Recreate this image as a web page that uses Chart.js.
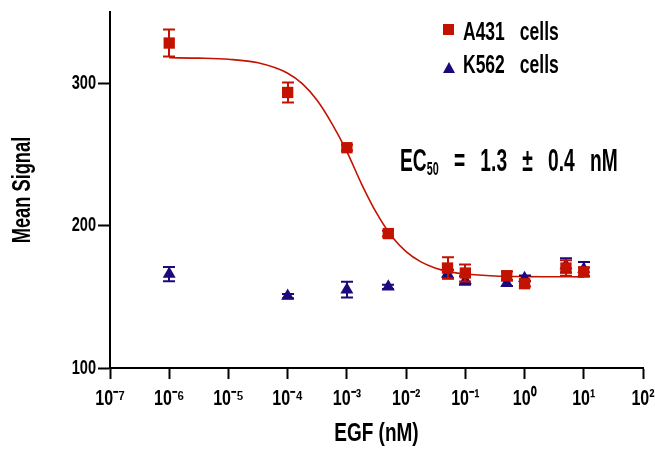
<!DOCTYPE html>
<html>
<head>
<meta charset="utf-8">
<script src="https://cdn.jsdelivr.net/npm/chart.js@4.4.1/dist/chart.umd.min.js"></script>
<style>
  html, body { margin: 0; padding: 0; background: #fff; }
  #wrap { position: relative; width: 655px; height: 450px; overflow: hidden; }
  #c { position: absolute; left: 0; top: 0; }
  .t { position: absolute; font-family: "Liberation Sans", Arial, sans-serif; font-weight: bold; color: #000; white-space: pre; transform-origin: 0 0; }
  .leg { font-size: 25px; line-height: 25px; word-spacing: 14.5px; transform: scaleX(0.7); }
  #ec { left: 400px; top: 144px; font-size: 32px; line-height: 32px; transform: scaleX(0.6); word-spacing: 16.5px; }
  #ec sub { font-size: 18px; line-height: 0; vertical-align: -4px; }
  #sq { position: absolute; left: 443px; top: 24px; width: 11px; height: 11px; background: #C41200; }
  #tri { position: absolute; left: 443px; top: 62px; width: 0; height: 0; border-left: 6px solid transparent; border-right: 6px solid transparent; border-bottom: 11px solid #1A0A7D; }
</style>
</head>
<body>
<div id="wrap">
  <canvas id="c" width="655" height="450"></canvas>
  <div id="sq"></div>
  <div id="tri"></div>
  <div class="t leg" id="leg1" style="left:463px;top:19px;"></div>
  <div class="t leg" id="leg2" style="left:463px;top:52px;"></div>
  <div class="t" id="ec">EC<sub>50</sub> = 1.3 ± 0.4 nM</div>
</div>
<script>
// ---- Data ----
const seriesNames = ['A431 cells', 'K562 cells'];

const concA431   = [1e-6, 1e-4, 1e-3, 5e-3, 5e-2, 1e-1, 5e-1, 1, 5, 10];
const signalA431 = [328.2, 293.5, 254.7, 194.4, 170.2, 166.7, 164.8, 159.2, 170.2, 167.5];
const errA431    = [9.5, 7, 2, 2, 7.5, 6, 3, 2, 5.5, 3];

const concK562   = [1e-6, 1e-4, 1e-3, 5e-3, 5e-2, 1e-1, 5e-1, 1, 5, 10];
const signalK562 = [166, 150.5, 155, 157, 166, 161.5, 159.5, 163, 172, 169.5];
const errK562    = [5, 1.5, 5.5, 1.5, 3, 3, 2, 2, 5, 5];

// fitted curve for A431
const fitConc   = [1e-6, 3.16e-6, 1e-5, 3.16e-5, 1e-4, 1.78e-4, 3.16e-4, 5.62e-4, 1e-3, 1.78e-3, 3.16e-3, 5.62e-3, 1e-2, 1.78e-2, 3.16e-2, 5.62e-2, 1e-1, 3.16e-1, 1, 3.16, 10];
const fitSignal = [317.9, 317.6, 316.8, 314.3, 307.0, 299.5, 287.9, 271.5, 252.0, 229.0, 208.9, 192.9, 181.7, 174.5, 170.1, 167.5, 166.0, 164.6, 164.2, 164.1, 164.0];

const xTickValues = [1e-7, 1e-6, 1e-5, 1e-4, 1e-3, 1e-2, 1e-1, 1, 10, 100];
const xTickLabels = ['10⁻⁷', '10⁻⁶', '10⁻⁵', '10⁻⁴', '10⁻³', '10⁻²', '10⁻¹', '10⁰', '10¹', '10²'];
const yTickValues = [100, 200, 300];
const yTickLabels = ['100', '200', '300'];

const xTitle = 'EGF (nM)';
const yTitle = 'Mean Signal';

// ---- Styles ----
const RED = '#C41200';
const BLUE = '#1A0A7D';
const FONT = '"Liberation Sans", Arial, sans-serif';
const TEXT_SCALE_X = 0.73; // condensed look of the original typeface

document.getElementById('leg1').textContent = seriesNames[0];
document.getElementById('leg2').textContent = seriesNames[1];

const toPts = (xs, ys) => xs.map((x, i) => ({ x: x, y: ys[i] }));

// draw all chart text horizontally condensed (still real text via fillText)
const condensedTextPlugin = {
  id: 'condensedText',
  beforeInit(chart) {
    const ctx = chart.ctx;
    if (ctx.__condensed) return;
    const orig = ctx.fillText;
    ctx.fillText = function (text, x, y, maxWidth) {
      this.save();
      this.translate(x, y);
      this.scale(TEXT_SCALE_X, 1);
      if (maxWidth === undefined) orig.call(this, text, 0, 0);
      else orig.call(this, text, 0, 0, maxWidth / TEXT_SCALE_X);
      this.restore();
    };
    ctx.__condensed = true;
  }
};

const errorBarPlugin = {
  id: 'errorBars',
  afterDatasetDraw(chart, args) {
    const ds = chart.data.datasets[args.index];
    if (!ds.errors) return;
    const ys = chart.scales.y;
    const ctx = chart.ctx;
    ctx.save();
    ctx.strokeStyle = ds.backgroundColor;
    ctx.lineWidth = 2;
    const cap = 6;
    args.meta.data.forEach((pt, i) => {
      const v = ds.data[i].y, e = ds.errors[i];
      const x = Math.round(pt.x);
      const yt = ys.getPixelForValue(v + e);
      const yb = ys.getPixelForValue(v - e);
      ctx.beginPath();
      ctx.moveTo(x, yt); ctx.lineTo(x, yb);
      ctx.moveTo(x - cap, yt); ctx.lineTo(x + cap, yt);
      ctx.moveTo(x - cap, yb); ctx.lineTo(x + cap, yb);
      ctx.stroke();
    });
    ctx.restore();
  }
};

new Chart(document.getElementById('c'), {
  type: 'scatter',
  data: {
    datasets: [
      {
        label: seriesNames[0],
        data: toPts(concA431, signalA431),
        errors: errA431,
        pointStyle: 'rect',
        pointRadius: 8,
        pointHoverRadius: 8,
        backgroundColor: RED,
        borderWidth: 0,
        order: 0
      },
      {
        label: seriesNames[1],
        data: toPts(concK562, signalK562),
        errors: errK562,
        pointStyle: 'triangle',
        pointRadius: 7.5,
        pointHoverRadius: 7.5,
        backgroundColor: BLUE,
        borderWidth: 0,
        order: 1
      },
      {
        label: 'fit',
        data: toPts(fitConc, fitSignal),
        showLine: true,
        pointRadius: 0,
        borderColor: RED,
        borderWidth: 1.6,
        cubicInterpolationMode: 'monotone',
        fill: false,
        order: 2
      }
    ]
  },
  options: {
    responsive: false,
    animation: false,
    events: [],
    layout: { padding: { top: 12, right: 12, bottom: 0, left: 0 } },
    plugins: { legend: { display: false }, tooltip: { enabled: false } },
    scales: {
      x: {
        type: 'logarithmic',
        min: 1e-7,
        max: 1e2,
        afterBuildTicks: (s) => { s.ticks = xTickValues.map(v => ({ value: v })); },
        afterFit: (s) => { s.paddingLeft = 0; s.paddingRight = 0; s.height = 82; },
        ticks: {
          autoSkip: false,
          maxRotation: 0,
          padding: 7,
          color: '#000',
          font: { family: FONT, size: 22, weight: 'bold' },
          callback: (v, i) => xTickLabels[i]
        },
        grid: { display: true, drawOnChartArea: false, drawTicks: true, tickLength: 11, tickWidth: 2, tickColor: '#000' },
        border: { display: true, color: '#000', width: 2 },
        title: { display: true, text: xTitle, color: '#000', font: { family: FONT, size: 26, weight: 'bold' }, padding: { top: 0, bottom: 1 } }
      },
      y: {
        type: 'linear',
        min: 100,
        max: 350,
        afterBuildTicks: (s) => { s.ticks = yTickValues.map(v => ({ value: v })); },
        afterFit: (s) => { s.width = 110; s.paddingTop = 0; s.paddingBottom = 0; },
        ticks: {
          padding: 2,
          color: '#000',
          font: { family: FONT, size: 20, weight: 'bold' },
          callback: (v, i) => yTickLabels[i]
        },
        grid: { display: true, drawOnChartArea: false, drawTicks: true, tickLength: 12, tickWidth: 2, tickColor: '#000' },
        border: { display: true, color: '#000', width: 2 },
        title: { display: true, text: yTitle, color: '#000', font: { family: FONT, size: 25, weight: 'bold' }, padding: { top: 8, bottom: 0 } }
      }
    }
  },
  plugins: [condensedTextPlugin, errorBarPlugin]
});
</script>
</body>
</html>
